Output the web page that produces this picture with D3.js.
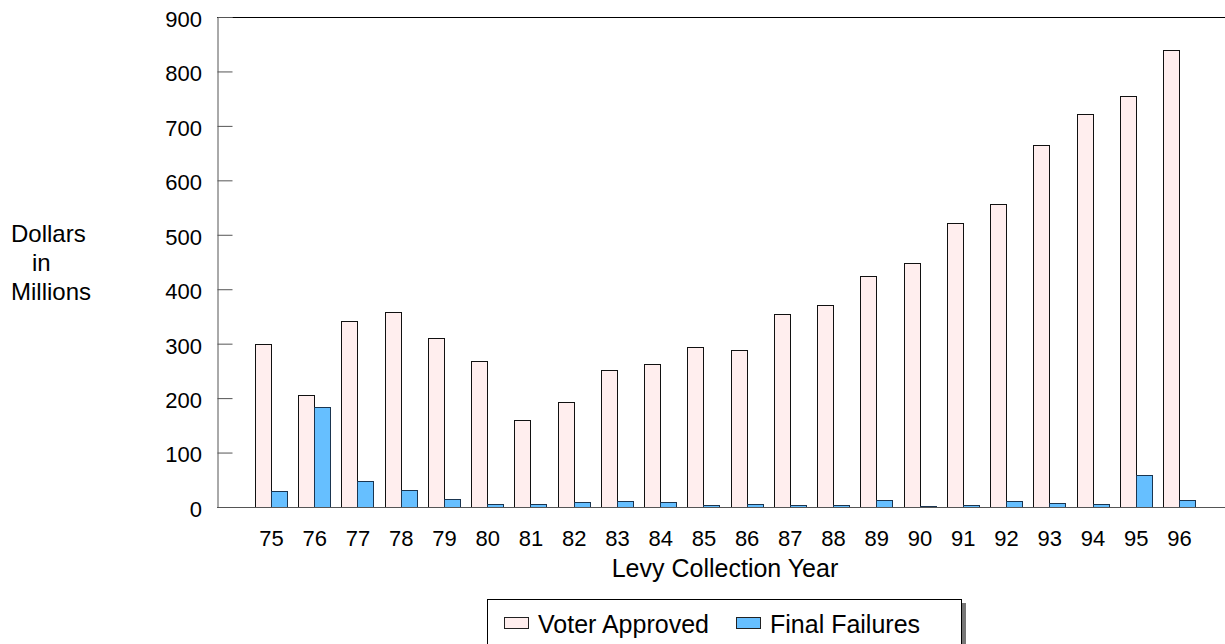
<!DOCTYPE html>
<html>
<head>
  <meta charset="utf-8">
  <title>Levy Collection</title>
  <script src="https://d3js.org/d3.v7.min.js"></script>
  <style>
    body { margin: 0; background: #fff; }
    text { font-family: "Liberation Sans", Arial, sans-serif; fill: #000; }
  </style>
</head>
<body>
  <svg width="1225" height="644"></svg>
  <script>
    const years = ["75","76","77","78","79","80","81","82","83","84","85",
                   "86","87","88","89","90","91","92","93","94","95","96"];
    const voterApproved = [300, 206, 342, 358, 310, 268, 160, 193, 251, 263, 293,
                           288, 354, 371, 425, 449, 521, 556, 664, 721, 754, 840];
    const finalFailures = [30, 184, 48, 32, 15, 6, 6, 10, 11, 10, 4,
                           5, 3, 3, 12, 2, 4, 11, 7, 5, 58, 12];
    const yTicks = [0, 100, 200, 300, 400, 500, 600, 700, 800, 900];
    const seriesNames = ["Voter Approved", "Final Failures"];
    const colors = ["#ffeeee", "#66bfff"];

    const svg = d3.select("svg");
    const plotLeft = 217, plotTop = 17, plotBottom = 507, plotRight = 1225;

    const y = d3.scaleLinear().domain([0, 900]).range([plotBottom, plotTop]);
    // group centres run from 271 to 1179
    const x = d3.scalePoint().domain(years).range([271, 1179]);
    const barW = 16;

    // top frame line
    svg.append("line").attr("x1", plotLeft).attr("x2", plotRight)
      .attr("y1", plotTop + 0.5).attr("y2", plotTop + 0.5)
      .attr("stroke", "#000").attr("stroke-width", 1);

    // bars
    const series = [voterApproved, finalFailures];
    series.forEach((vals, si) => {
      svg.append("g").selectAll("rect")
        .data(vals)
        .enter().append("rect")
        .attr("x", (d, i) => Math.round(x(years[i]) + (si === 0 ? -barW : 0)) + 0.5)
        .attr("y", d => Math.round(y(d)) + 0.5)
        .attr("width", barW)
        .attr("height", d => Math.max(0, plotBottom - Math.round(y(d))))
        .attr("fill", colors[si])
        .attr("stroke", si === 0 ? "#111" : "#1a3550")
        .attr("stroke-width", 1);
    });

    // y axis
    const yAxis = svg.append("g").attr("transform", `translate(${plotLeft + 0.5},0)`)
      .call(d3.axisRight(y).tickValues(yTicks).tickSize(15).tickFormat(""));
    yAxis.select(".domain").attr("stroke", "#555");
    yAxis.selectAll(".tick line").attr("stroke", "#555");
    svg.append("g").selectAll("text")
      .data(yTicks)
      .enter().append("text")
      .attr("x", 202)
      .attr("y", d => y(d))
      .attr("dy", "0.45em")
      .attr("text-anchor", "end")
      .attr("font-size", 22)
      .text(d => d);

    // x axis
    const xAxis = svg.append("g").attr("transform", `translate(0,${plotBottom + 0.5})`)
      .call(d3.axisBottom(x).tickSize(0).tickPadding(22));
    xAxis.select(".domain").attr("d", `M${plotLeft},0H${plotRight}`).attr("stroke", "#555");
    xAxis.selectAll(".tick text").attr("font-size", 22).attr("dy", null).attr("y", 38)
      .attr("font-family", "Liberation Sans, Arial, sans-serif").attr("fill", "#000");

    svg.append("text")
      .attr("x", 725).attr("y", 577)
      .attr("text-anchor", "middle")
      .attr("font-size", 25)
      .text("Levy Collection Year");

    // y title
    const yTitle = svg.append("text").attr("font-size", 24);
    [["Dollars", 11, 242], ["in", 32, 271], ["Millions", 11, 300]].forEach(t => {
      yTitle.append("tspan").attr("x", t[1]).attr("y", t[2]).text(t[0]);
    });

    // legend
    const lg = svg.append("g");
    lg.append("rect").attr("x", 491).attr("y", 603).attr("width", 475).attr("height", 60)
      .attr("fill", "#777");
    lg.append("rect").attr("x", 487.5).attr("y", 599.5).attr("width", 474).attr("height", 60)
      .attr("fill", "#fff").attr("stroke", "#000");
    const legX = [504, 736];
    seriesNames.forEach((name, i) => {
      lg.append("rect").attr("x", legX[i] + 0.5).attr("y", 617.5).attr("width", 24).attr("height", 11)
        .attr("fill", colors[i]).attr("stroke", "#222");
      lg.append("text").attr("x", legX[i] + 34).attr("y", 633)
        .attr("font-size", 25).text(name);
    });
  </script>
</body>
</html>
